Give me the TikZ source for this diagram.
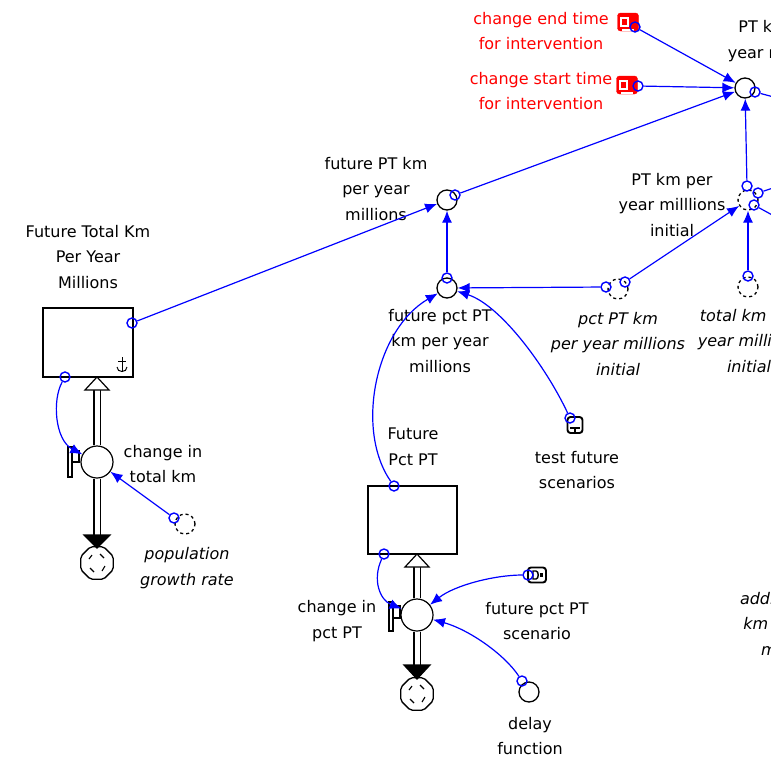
\documentclass[tikz,border=0pt]{standalone}
\usepackage{fontspec}
\setmainfont{DejaVu Sans}
\usetikzlibrary{arrows.meta,shapes.geometric}
\definecolor{lk}{RGB}{0,0,255}
\definecolor{rd}{RGB}{255,0,0}
\begin{document}
\begin{tikzpicture}[x=1pt,y=-1pt,
 lbl/.style={align=center, font=\fontsize{16}{25.5}\selectfont, inner sep=0pt, text=black},
 ital/.style={font=\fontsize{16}{25.5}\selectfont\itshape},
 aux/.style={circle, draw=black, line width=1.3pt, minimum size=20pt, inner sep=0pt},
 ghost/.style={aux, dash pattern=on 3pt off 3pt},
 tail/.style={circle, draw=lk, line width=1.4pt, minimum size=10pt, inner sep=0pt},
 link/.style={draw=lk, line width=1.2pt, -{Latex[length=12pt,width=10pt]}},
 stub/.style={draw=lk, line width=1.2pt},
 stock/.style={draw=black, line width=1.3pt, inner sep=0pt},
 valve/.style={circle, draw=black, line width=1.2pt, minimum size=32pt, inner sep=0pt, fill=white},
 pipe/.style={double=white, double distance=5pt, line width=1.3pt, draw=black},
 cloud/.style={regular polygon, regular polygon sides=8, draw=black, line width=1.3pt, minimum size=35pt, rounded corners=2pt, inner sep=0pt},
]
\useasboundingbox (0,0) rectangle (771,758);
\clip (0,0) rectangle (771,758);

% ---------- labels ----------
\node[lbl, text=rd] (lEnd) at (541,31) {change end time\\for intervention};
\node[lbl, text=rd] (lStart) at (541,91) {change start time\\for intervention};
\node[lbl] (lPT) at (779,41) {PT km per\\year millions};
\node[lbl] (lPTi) at (672,205) {PT km per\\year milllions\\initial};
\node[lbl, ital] (lTot) at (749,341) {total km per\\year millions\\initial};
\node[lbl, ital] (lPct) at (618,344) {pct PT km\\per year millions\\initial};
\node[lbl] (lFPT) at (376,189) {future PT km\\per year\\millions};
\node[lbl] (lFpct) at (440,341) {future pct PT\\km per year\\millions};
\node[lbl] (lTest) at (577,470) {test future\\scenarios};
\node[lbl] (lS1) at (88,257) {Future Total Km\\Per Year\\Millions};
\node[lbl] (lCh1) at (163,464) {change in\\total km};
\node[lbl, ital] (lPop) at (187,568) {population\\growth rate};
\node[lbl] (lS2) at (413,447) {Future\\Pct PT};
\node[lbl] (lCh2) at (337,621) {change in\\pct PT};
\node[lbl] (lScen) at (537,621) {future pct PT\\scenario};
\node[lbl] (lDelay) at (530,736) {delay\\function};
\node[lbl, ital] (lAdd) at (792,624) {additional PT\\km per year\\millions};

% ---------- stocks ----------
\node[stock, minimum width=90pt, minimum height=69pt] (s1) at (88,342.5) {};
\node[stock, minimum width=89pt, minimum height=68pt] (s2) at (412.5,520) {};
% anchor-like mark in stock 1
\draw[line width=1pt] (122,357) -- (122,372) (118,361) -- (126,361);
\draw[line width=1pt] (117,367) .. controls (117,373) and (127,373) .. (127,367);

% ---------- flows ----------
\node[valve] (v1) at (97,462) {};
\node[valve] (v2) at (417,615) {};
\coordinate (a1) at (97,390);
\coordinate (b1) at (97,535);
\coordinate (a2) at (417,567);
\coordinate (b2) at (417,665);
\draw[pipe] (v1.north) -- (a1);
\draw[pipe] (v1.south) -- (b1);
\draw[pipe] (v2.north) -- (a2);
\draw[pipe] (v2.south) -- (b2);
\draw[line width=1.2pt, fill=white] (85,390) -- (109,390) -- (97,377) -- cycle;
\draw[line width=1.2pt, fill=black] (84,535) -- (110,535) -- (97,548) -- cycle;
\draw[line width=1.2pt, fill=white] (405,567) -- (429,567) -- (417,554) -- cycle;
\draw[line width=1.2pt, fill=black] (404,665) -- (430,665) -- (417,679) -- cycle;
% valve bars
\draw[line width=1.2pt, fill=white] (68,447) rectangle (72,477);
\draw[line width=1.2pt] (72,451) -- (79,451) -- (79,462) -- (72,462);
\draw[line width=1.2pt, fill=white] (389,602) rectangle (393,631);
\draw[line width=1.2pt] (393,606) -- (400,606) -- (400,618) -- (393,618);
% clouds
\node[cloud] (c1) at (97,563) {};
\node[cloud] (c2) at (417,694) {};
\foreach \cx/\cy in {97/563, 417/694}{
  \draw[line width=1.1pt] (\cx-8,\cy-4) -- (\cx-5,\cy-8) (\cx+3,\cy-9) -- (\cx+7,\cy-5)
    (\cx+8,\cy+3) -- (\cx+5,\cy+8) (\cx-3,\cy+9) -- (\cx-7,\cy+5);
}

% ---------- auxiliaries ----------
\node[aux] (ptTop) at (745,88) {};
\node[ghost] (pti) at (748,200) {};
\node[ghost] (tot) at (748,287) {};
\node[ghost] (pct) at (618,289) {};
\node[aux] (fpt) at (447,200) {};
\node[aux] (fpct) at (447,288) {};
\node[ghost] (pop) at (185,524) {};
\node[aux] (delay) at (529,692) {};

% ---------- icons ----------
\node[draw=rd, fill=rd, rounded corners=3pt, minimum width=21pt, minimum height=18pt, inner sep=0pt] (iEnd) at (628,22) {};
\fill[white] (620,17) rectangle (629,27);
\fill[rd] (622,19) rectangle (627,25);
\fill[white] (622,29) rectangle (634,31);
\node[draw=rd, fill=rd, rounded corners=3pt, minimum width=21pt, minimum height=18pt, inner sep=0pt] (iStart) at (627,85) {};
\fill[white] (619,80) rectangle (628,90);
\fill[rd] (621,82) rectangle (626,88);
\fill[white] (621,92) rectangle (633,94);
\node[draw=black, fill=white, line width=1.9pt, rounded corners=3pt, minimum width=15pt, minimum height=16pt, inner sep=0pt] (iTest) at (575,425) {};
\draw[line width=1.5pt] (570,428) -- (580,428) (575,428) -- (575,432);
\node[draw=black, fill=white, line width=1.9pt, rounded corners=3pt, minimum width=18pt, minimum height=15pt, inner sep=0pt] (iScen) at (537,575) {};
\draw[line width=1.4pt] (533,571) -- (536,571) .. controls (539,571) and (539,579) .. (536,579) -- (533,579) -- cycle;
\fill (540,573) rectangle (543,577);

% ---------- link tails ----------
\node[tail] (tEnd) at (635,27) {};
\node[tail] (tStart) at (638,86) {};
\node[tail] (tPTo) at (755,92) {};
\node[tail] (tPTi1) at (747,186) {};
\node[tail] (tPTi2) at (758,193) {};
\node[tail] (tPTi3) at (754,205) {};
\node[tail] (tTot) at (748,276) {};
\node[tail] (tPct1) at (606,287) {};
\node[tail] (tPct2) at (625,282) {};
\node[tail] (tFPT) at (455,195) {};
\node[tail] (tFpct) at (447,278) {};
\node[tail] (tTest) at (570,418) {};
\node[tail] (tS1r) at (132,323) {};
\node[tail] (tS1b) at (65,377) {};
\node[tail] (tPop) at (174,518) {};
\node[tail] (tS2t) at (394,486) {};
\node[tail] (tS2b) at (384,554) {};
\node[tail] (tScen) at (528,575) {};
\node[tail] (tDelay) at (522,681) {};

\coordinate (e1) at (785,100);
\coordinate (e2) at (785,184);
\coordinate (e3) at (785,222);

% ---------- links ----------
\draw[link] (tEnd) -- (ptTop);
\draw[link] (tStart) -- (ptTop);
\draw[link] (tFPT) -- (ptTop);
\draw[link] (tPTi1) -- (ptTop);
\draw[link] (tPct2) -- (pti);
\draw[link] (tTot) -- (pti);
\draw[link] (tS1r) -- (fpt);
\draw[link] (tFpct) -- (fpt);
\draw[link] (tPct1) -- (fpct);
\draw[link] (tS2t) .. controls (355,430) and (375,330) .. (fpct);
\draw[link] (tTest) .. controls (545,365) and (500,305) .. (fpct);
\draw[link] (tS1b) .. controls (52,400) and (55,440) .. (v1);
\draw[link] (tPop) -- (v1);
\draw[link] (tS2b) .. controls (372,580) and (380,600) .. (v2);
\draw[link] (tScen) .. controls (495,575) and (455,585) .. (v2);
\draw[link] (tDelay) .. controls (505,655) and (470,630) .. (v2);
\draw[stub] (tPTo) -- (e1);
\draw[stub] (tPTi2) -- (e2);
\draw[stub] (tPTi3) -- (e3);
\end{tikzpicture}
\end{document}
